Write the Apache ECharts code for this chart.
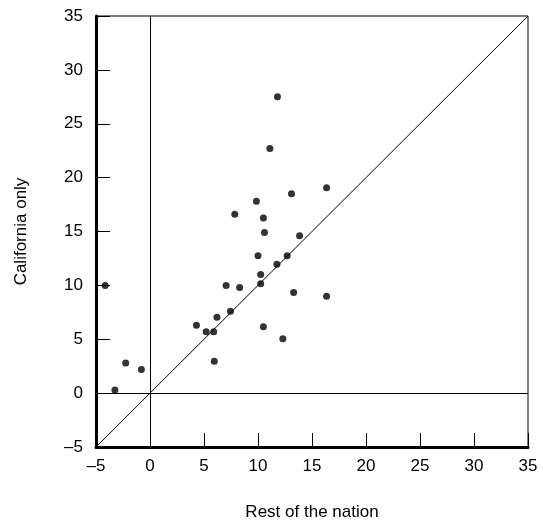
<!DOCTYPE html>
<html lang="en" style="height: 100%">
  <head>
    <meta charset="utf-8" />
  </head>
  <body style="height: 100%; margin: 0; background: #fff">
    <div id="container" style="width: 543px; height: 527px"></div>
    <script src="https://cdn.jsdelivr.net/npm/echarts@6/dist/echarts.min.js"></script>
    <script type="text/javascript">
      // values
      var restOfNation = [
        11.8, 11.1, 13.1, 16.35, 9.85, 7.85, 10.5, 10.6, 13.85, 10.0,
        12.7, 11.75, 10.25, -4.15, 10.25, 7.05, 8.3, 13.3, 16.35, 7.45,
        6.2, 4.3, 10.5, 5.2, 5.9, 12.3, 5.95, -2.25, -0.8, -3.25
      ];
      var californiaOnly = [
        27.5, 22.7, 18.5, 19.05, 17.8, 16.6, 16.25, 14.9, 14.6, 12.75,
        12.75, 11.95, 11.0, 10.0, 10.15, 10.0, 9.8, 9.35, 9.0, 7.6,
        7.05, 6.3, 6.15, 5.7, 5.7, 5.05, 2.95, 2.8, 2.2, 0.3
      ];
      var axisMin = -5;
      var axisMax = 35;
      var tickStep = 5;

      var points = [];
      for (var i = 0; i < restOfNation.length; i++) {
        points.push([restOfNation[i], californiaOnly[i]]);
      }

      function dash(v) {
        return v < 0 ? "\u2013" + Math.abs(v) : String(v);
      }

      var font = "Liberation Sans, Arial, sans-serif";

      var myChart = echarts.init(document.getElementById("container"), null, {
        renderer: "canvas",
      });

      var option = {
        animation: false,
        grid: {
          left: 96,
          top: 16,
          width: 432,
          height: 431,
          show: true,
          borderColor: "#000",
          borderWidth: 1,
        },
        xAxis: {
          type: "value",
          min: axisMin,
          max: axisMax,
          interval: tickStep,
          name: "Rest of the nation",
          nameLocation: "middle",
          nameGap: 57,
          nameTextStyle: { fontFamily: font, fontSize: 17, color: "#000" },
          axisLine: { onZero: false, lineStyle: { color: "#000", width: 3 } },
          axisTick: { inside: true, length: 14, lineStyle: { color: "#000" } },
          axisLabel: {
            formatter: dash,
            fontFamily: font,
            fontSize: 17,
            color: "#000",
            margin: 11,
          },
          splitLine: { show: false },
        },
        yAxis: {
          type: "value",
          min: axisMin,
          max: axisMax,
          interval: tickStep,
          name: "California only",
          nameLocation: "middle",
          nameGap: 66,
          nameTextStyle: { fontFamily: font, fontSize: 17, color: "#000" },
          axisLine: { onZero: false, lineStyle: { color: "#000", width: 3 } },
          axisTick: { inside: true, length: 14, lineStyle: { color: "#000" } },
          axisLabel: {
            formatter: dash,
            fontFamily: font,
            fontSize: 17,
            color: "#000",
            margin: 13,
          },
          splitLine: { show: false },
        },
        series: [
          {
            type: "line",
            data: [
              [axisMin, axisMin],
              [axisMax, axisMax],
            ],
            symbol: "none",
            silent: true,
            lineStyle: { color: "#000", width: 1 },
            markLine: {
              symbol: "none",
              silent: true,
              label: { show: false },
              lineStyle: { color: "#000", width: 1, type: "solid" },
              data: [{ xAxis: 0 }, { yAxis: 0 }],
            },
          },
          {
            type: "scatter",
            data: points,
            symbolSize: 7,
            itemStyle: { color: "#000" },
          },
        ],
      };
      myChart.setOption(option);
    </script>
  </body>
</html>
